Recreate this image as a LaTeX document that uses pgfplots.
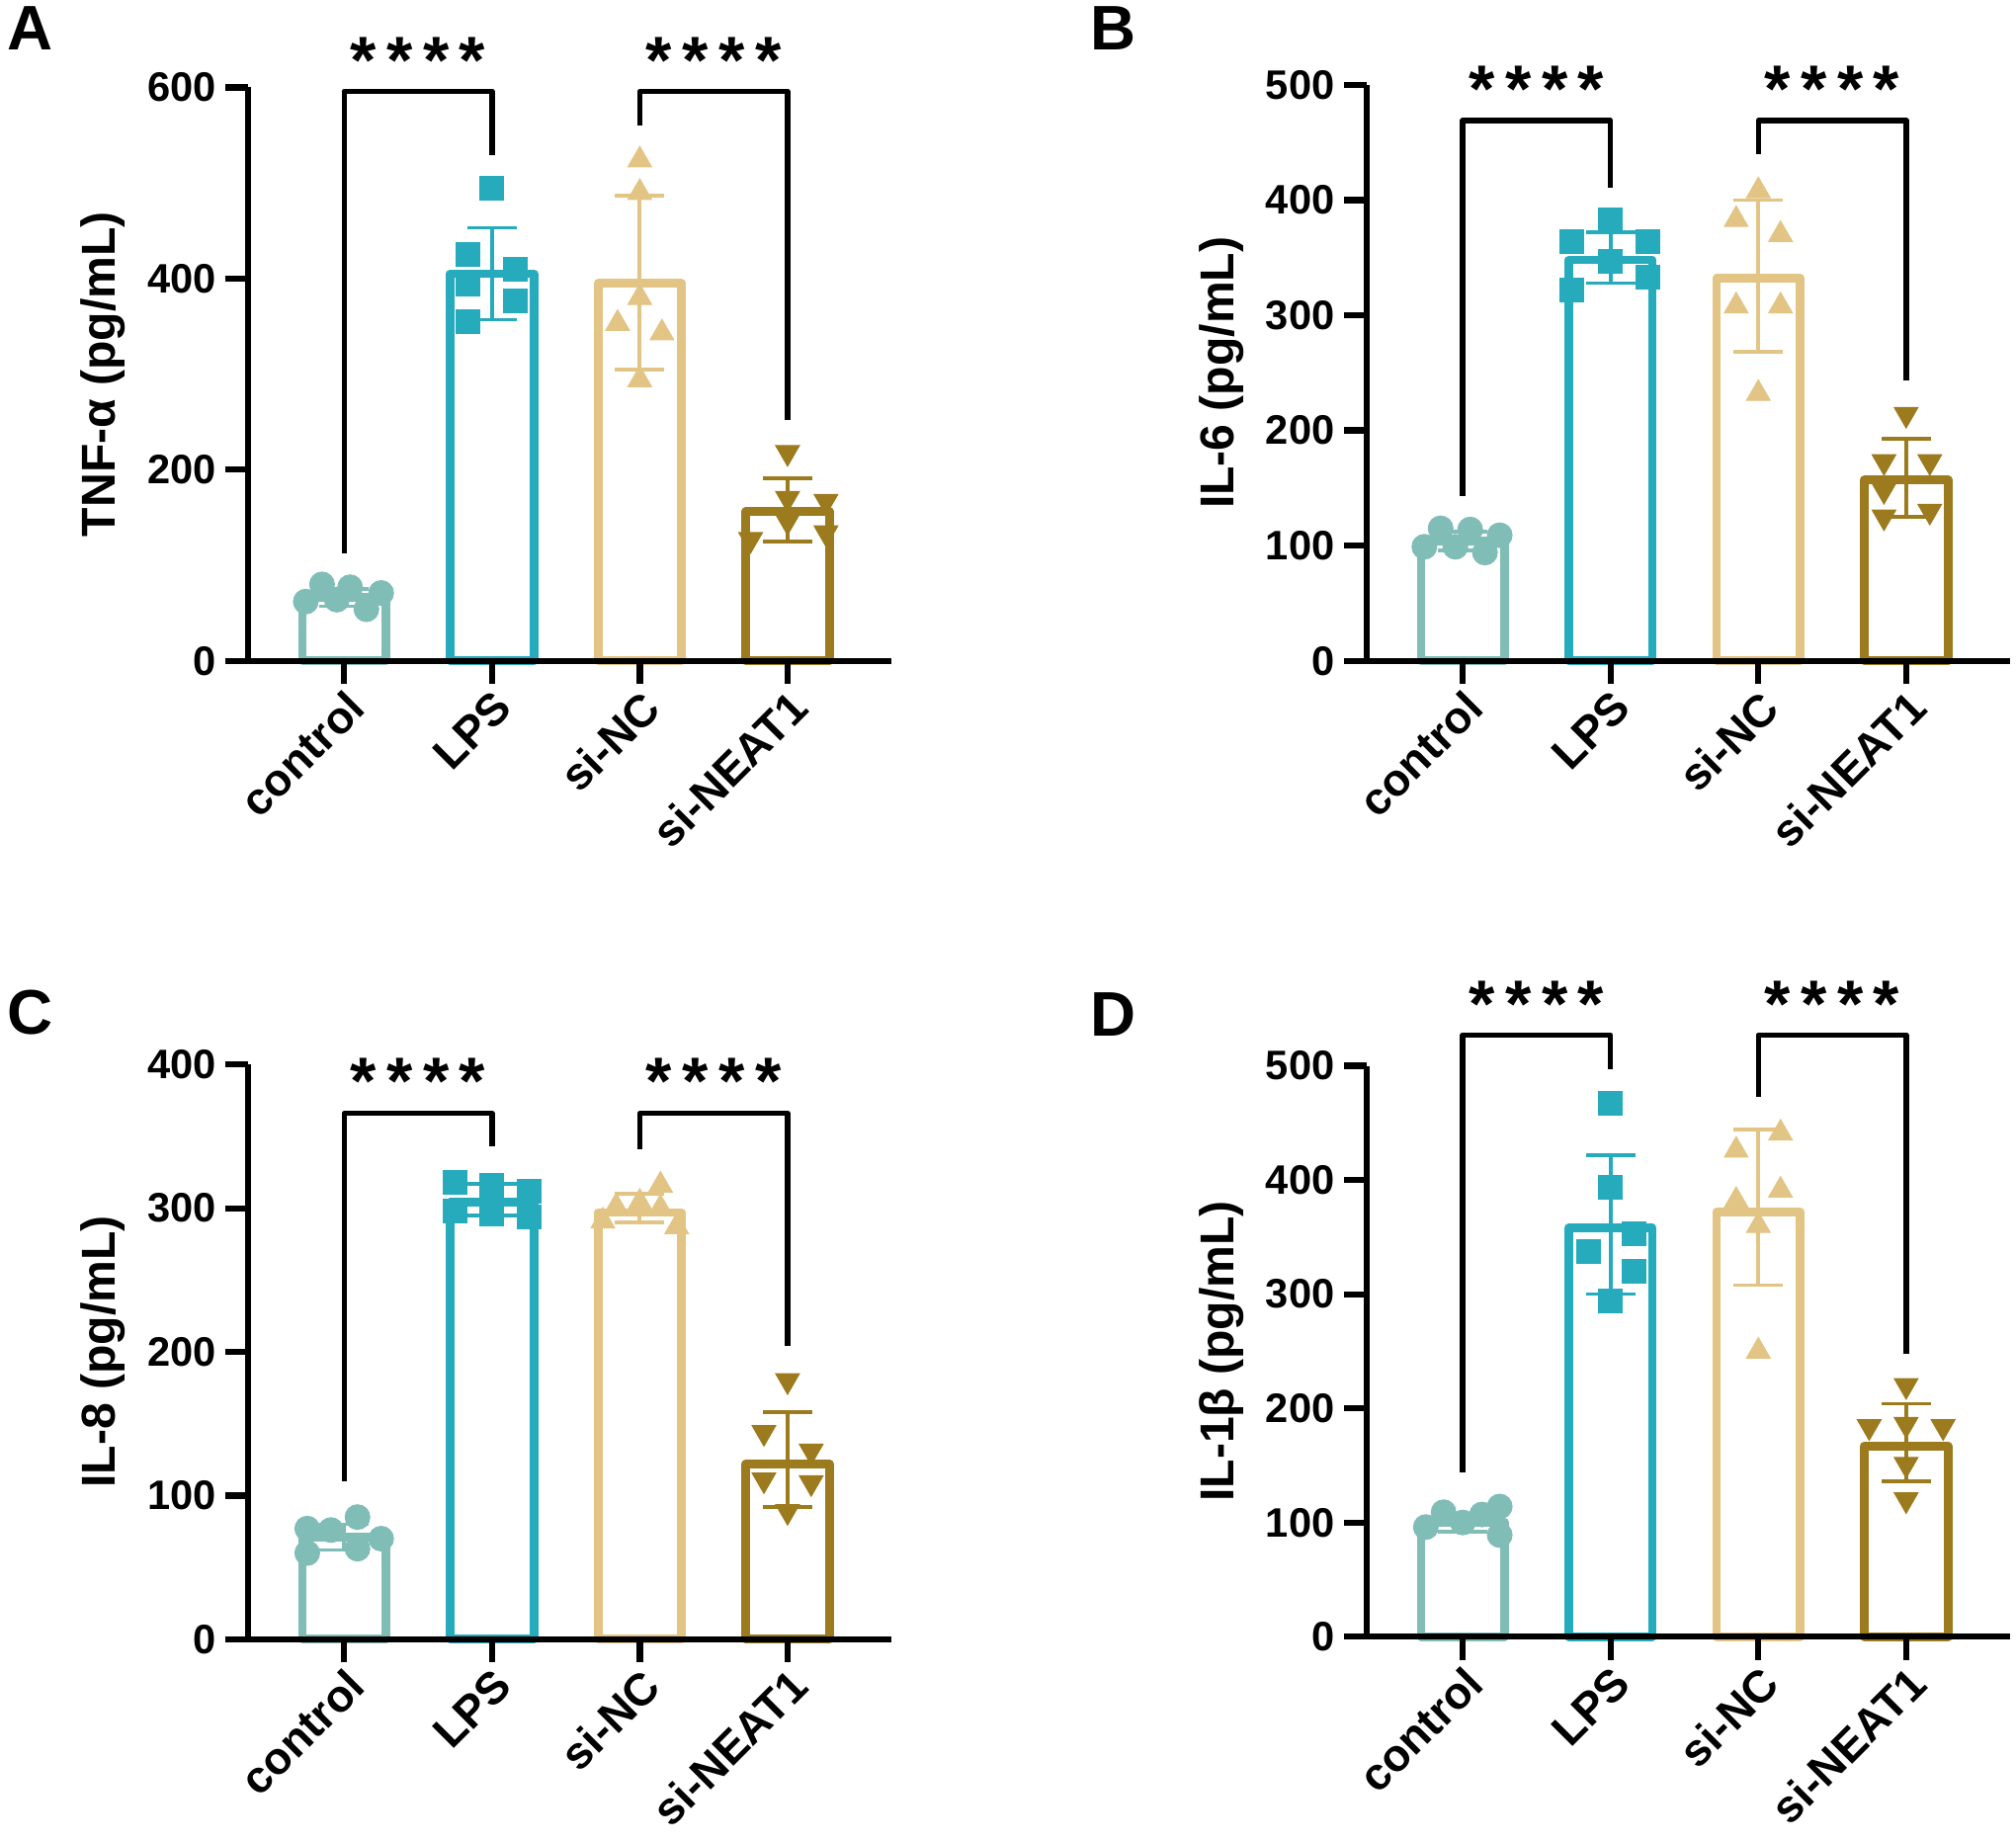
\documentclass[border=0pt]{standalone}
\usepackage{fontspec}
\setmainfont{Liberation Sans}
\usepackage{pgfplots}
\pgfplotsset{compat=1.18}
\definecolor{cA}{HTML}{80BDB7}
\definecolor{cB}{HTML}{26ABBD}
\definecolor{cC}{HTML}{E2C484}
\definecolor{cD}{HTML}{9C7A1E}
\newcommand\stars{*\hspace{4pt}*\hspace{4pt}*\hspace{4pt}*}
\tikzset{starnode/.style={font=\fontsize{26}{26}\selectfont\bfseries, yshift=-2.5pt}}
\pgfplotsset{
  panel/.style={
    scale only axis, width=250pt,
    axis lines=left, axis line style={-, line width=2.4pt},
    xmin=-0.65, xmax=3.7, ymin=0,
    xtick={0,1,2,3}, xticklabels={control,LPS,si-NC,si-NEAT1},
    tick align=outside, major tick length=9pt,
    every tick/.style={line width=2.4pt, black},
    x tick label style={rotate=45, anchor=north east, font=\fontsize{17.5}{17.5}\selectfont\bfseries, inner sep=1pt},
    y tick label style={font=\fontsize{16}{16}\selectfont\bfseries},
    /pgf/number format/assume math mode=true,
    ylabel style={at={(axis description cs:-0.226,0.5)}, anchor=center, font=\fontsize{18.5}{18.5}\selectfont\bfseries},
    clip=false, axis on top, scaled y ticks=false,
  },
  barA/.style={ybar, bar width=0.565, bar shift=0pt, fill=white, line width=3.4pt, line join=round, draw=#1},
  errA/.style={draw=none, mark=none, forget plot, error bars/.cd, y dir=both, y explicit,
    error bar style={draw=#1, line width=1.6pt},
    error mark options={draw=#1, line width=1.4pt, mark size=9.6pt, rotate=90}},
  brk/.style={black, line width=2.1pt, line join=round, mark=none},
}
\begin{document}
\begin{tikzpicture}
\useasboundingbox (0,0) rectangle (784pt,716pt);
% ---------------- A ----------------
\begin{axis}[panel, at={(96.5pt,459pt)}, anchor=south west, height=223pt,
  ymax=600, ytick={0,200,400,600}, ylabel={TNF-α (pg/mL)}]
\addplot[barA=cA] coordinates {(0,66)};
\addplot[barA=cB] coordinates {(1,405)};
\addplot[barA=cC] coordinates {(2,395)};
\addplot[barA=cD] coordinates {(3,156)};
\addplot[errA=cA] coordinates {(0,66) +- (0,9)};
\addplot[errA=cB] coordinates {(1,405) +- (0,48)};
\addplot[errA=cC] coordinates {(2,396) +- (0,91)};
\addplot[errA=cD] coordinates {(3,158) +- (0,33)};
\addplot[only marks, mark=*, mark size=4.8pt, cA] coordinates {(-0.26,62) (-0.15,80) (-0.05,64) (0.04,77) (0.15,54) (0.25,71)};
\addplot[only marks, mark=square*, mark size=4.6pt, cB] coordinates {(1,495) (0.84,425) (1.16,410) (0.84,394) (1.16,377) (0.84,355)};
\addplot[only marks, mark=triangle*, mark size=5.3pt, cC] coordinates {(2,524) (2,490) (2,380) (1.85,353) (2.15,343) (2,294)};
\addplot[only marks, mark=triangle*, mark size=5.3pt, mark options={rotate=180}, cD] coordinates {(3,218) (3,170) (3.26,167) (3,146) (2.75,127) (3.26,134)};
\addplot[brk] coordinates {(0,112) (0,596) (1,596) (1,529)};
\addplot[brk] coordinates {(2,560) (2,596) (3,596) (3,252)};
\node[starnode] at (axis cs:0.5,635) {\stars};
\node[starnode] at (axis cs:2.5,635) {\stars};
\end{axis}
% ---------------- B ----------------
\begin{axis}[panel, at={(531.5pt,459pt)}, anchor=south west, height=224pt,
  ymax=500, ytick={0,100,200,300,400,500}, ylabel={IL-6 (pg/mL)}]
\addplot[barA=cA] coordinates {(0,104)};
\addplot[barA=cB] coordinates {(1,348)};
\addplot[barA=cC] coordinates {(2,332)};
\addplot[barA=cD] coordinates {(3,157)};
\addplot[errA=cA] coordinates {(0,104) +- (0,8)};
\addplot[errA=cB] coordinates {(1,350) +- (0,22)};
\addplot[errA=cC] coordinates {(2,334) +- (0,66)};
\addplot[errA=cD] coordinates {(3,159) +- (0,34)};
\addplot[only marks, mark=*, mark size=4.8pt, cA] coordinates {(-0.26,99) (-0.15,115) (-0.05,99) (0.05,114) (0.15,94) (0.25,109)};
\addplot[only marks, mark=square*, mark size=4.6pt, cB] coordinates {(0.74,322) (0.74,364) (1,383) (1,347) (1.25,364) (1.25,333)};
\addplot[only marks, mark=triangle*, mark size=5.3pt, cC] coordinates {(2,408) (1.85,383) (2.15,370) (1.85,308) (2.15,308) (2,232)};
\addplot[only marks, mark=triangle*, mark size=5.3pt, mark options={rotate=180}, cD] coordinates {(3,214) (2.85,173) (3.16,173) (2.85,148) (3.16,130) (2.85,125)};
\addplot[brk] coordinates {(0,143) (0,469) (1,469) (1,411)};
\addplot[brk] coordinates {(2,440) (2,469) (3,469) (3,243)};
\node[starnode] at (axis cs:0.5,502) {\stars};
\node[starnode] at (axis cs:2.5,502) {\stars};
\end{axis}
% ---------------- C ----------------
\begin{axis}[panel, at={(96.5pt,78.5pt)}, anchor=south west, height=223.5pt,
  ymax=400, ytick={0,100,200,300,400}, ylabel={IL-8 (pg/mL)}]
\addplot[barA=cA] coordinates {(0,71)};
\addplot[barA=cB] coordinates {(1,304)};
\addplot[barA=cC] coordinates {(2,297)};
\addplot[barA=cD] coordinates {(3,122)};
\addplot[errA=cA] coordinates {(0,71) +- (0,9)};
\addplot[errA=cB] coordinates {(1,306) +- (0,11)};
\addplot[errA=cC] coordinates {(2,300) +- (0,10)};
\addplot[errA=cD] coordinates {(3,125) +- (0,33)};
\addplot[only marks, mark=*, mark size=4.8pt, cA] coordinates {(-0.25,77) (-0.09,76) (0.09,85) (-0.25,60) (0.09,63) (0.25,70)};
\addplot[only marks, mark=square*, mark size=4.6pt, cB] coordinates {(0.75,318) (1,316) (1.25,312) (0.75,298) (1,296) (1.25,294)};
\addplot[only marks, mark=triangle*, mark size=5.3pt, cC] coordinates {(2.14,316) (2,304) (1.84,301) (2.14,300) (1.75,291) (2.25,287)};
\addplot[only marks, mark=triangle*, mark size=5.3pt, mark options={rotate=180}, cD] coordinates {(3,180) (2.84,144) (3.16,131) (2.84,111) (3.16,109) (3,89)};
\addplot[brk] coordinates {(0,110) (0,366) (1,366) (1,343)};
\addplot[brk] coordinates {(2,341) (2,366) (3,366) (3,204)};
\node[starnode] at (axis cs:0.5,393) {\stars};
\node[starnode] at (axis cs:2.5,393) {\stars};
\end{axis}
% ---------------- D ----------------
\begin{axis}[panel, at={(531.5pt,79.5pt)}, anchor=south west, height=222pt,
  ymax=500, ytick={0,100,200,300,400,500}, ylabel={IL-1β (pg/mL)}]
\addplot[barA=cA] coordinates {(0,100)};
\addplot[barA=cB] coordinates {(1,358)};
\addplot[barA=cC] coordinates {(2,372)};
\addplot[barA=cD] coordinates {(3,167)};
\addplot[errA=cA] coordinates {(0,100) +- (0,8)};
\addplot[errA=cB] coordinates {(1,361) +- (0,61)};
\addplot[errA=cC] coordinates {(2,376) +- (0,68)};
\addplot[errA=cD] coordinates {(3,170) +- (0,34)};
\addplot[only marks, mark=*, mark size=4.8pt, cA] coordinates {(-0.25,96) (-0.13,109) (0,100) (0.13,107) (0.25,114) (0.25,89)};
\addplot[only marks, mark=square*, mark size=4.6pt, cB] coordinates {(1,467) (1,394) (1.16,353) (0.85,337) (1.16,320) (1,294)};
\addplot[only marks, mark=triangle*, mark size=5.3pt, cC] coordinates {(2.15,441) (1.85,426) (2.15,391) (1.85,382) (2,360) (2,250)};
\addplot[only marks, mark=triangle*, mark size=5.3pt, mark options={rotate=180}, cD] coordinates {(3,220) (2.75,184) (3,186) (3.25,184) (3,151) (3,120)};
\addplot[brk] coordinates {(0,144) (0,527) (1,527) (1,497)};
\addplot[brk] coordinates {(2,473) (2,527) (3,527) (3,248)};
\node[starnode] at (axis cs:0.5,560) {\stars};
\node[starnode] at (axis cs:2.5,560) {\stars};
\end{axis}
% panel letters
\node[anchor=north west, inner sep=0pt, font=\fontsize{24.5}{24.5}\selectfont\bfseries] at (2.5pt,713.5pt) {A};
\node[anchor=north west, inner sep=0pt, font=\fontsize{24.5}{24.5}\selectfont\bfseries] at (424pt,713.5pt) {B};
\node[anchor=north west, inner sep=0pt, font=\fontsize{24.5}{24.5}\selectfont\bfseries] at (2.5pt,331pt) {C};
\node[anchor=north west, inner sep=0pt, font=\fontsize{24.5}{24.5}\selectfont\bfseries] at (424pt,330pt) {D};
\end{tikzpicture}
\end{document}
